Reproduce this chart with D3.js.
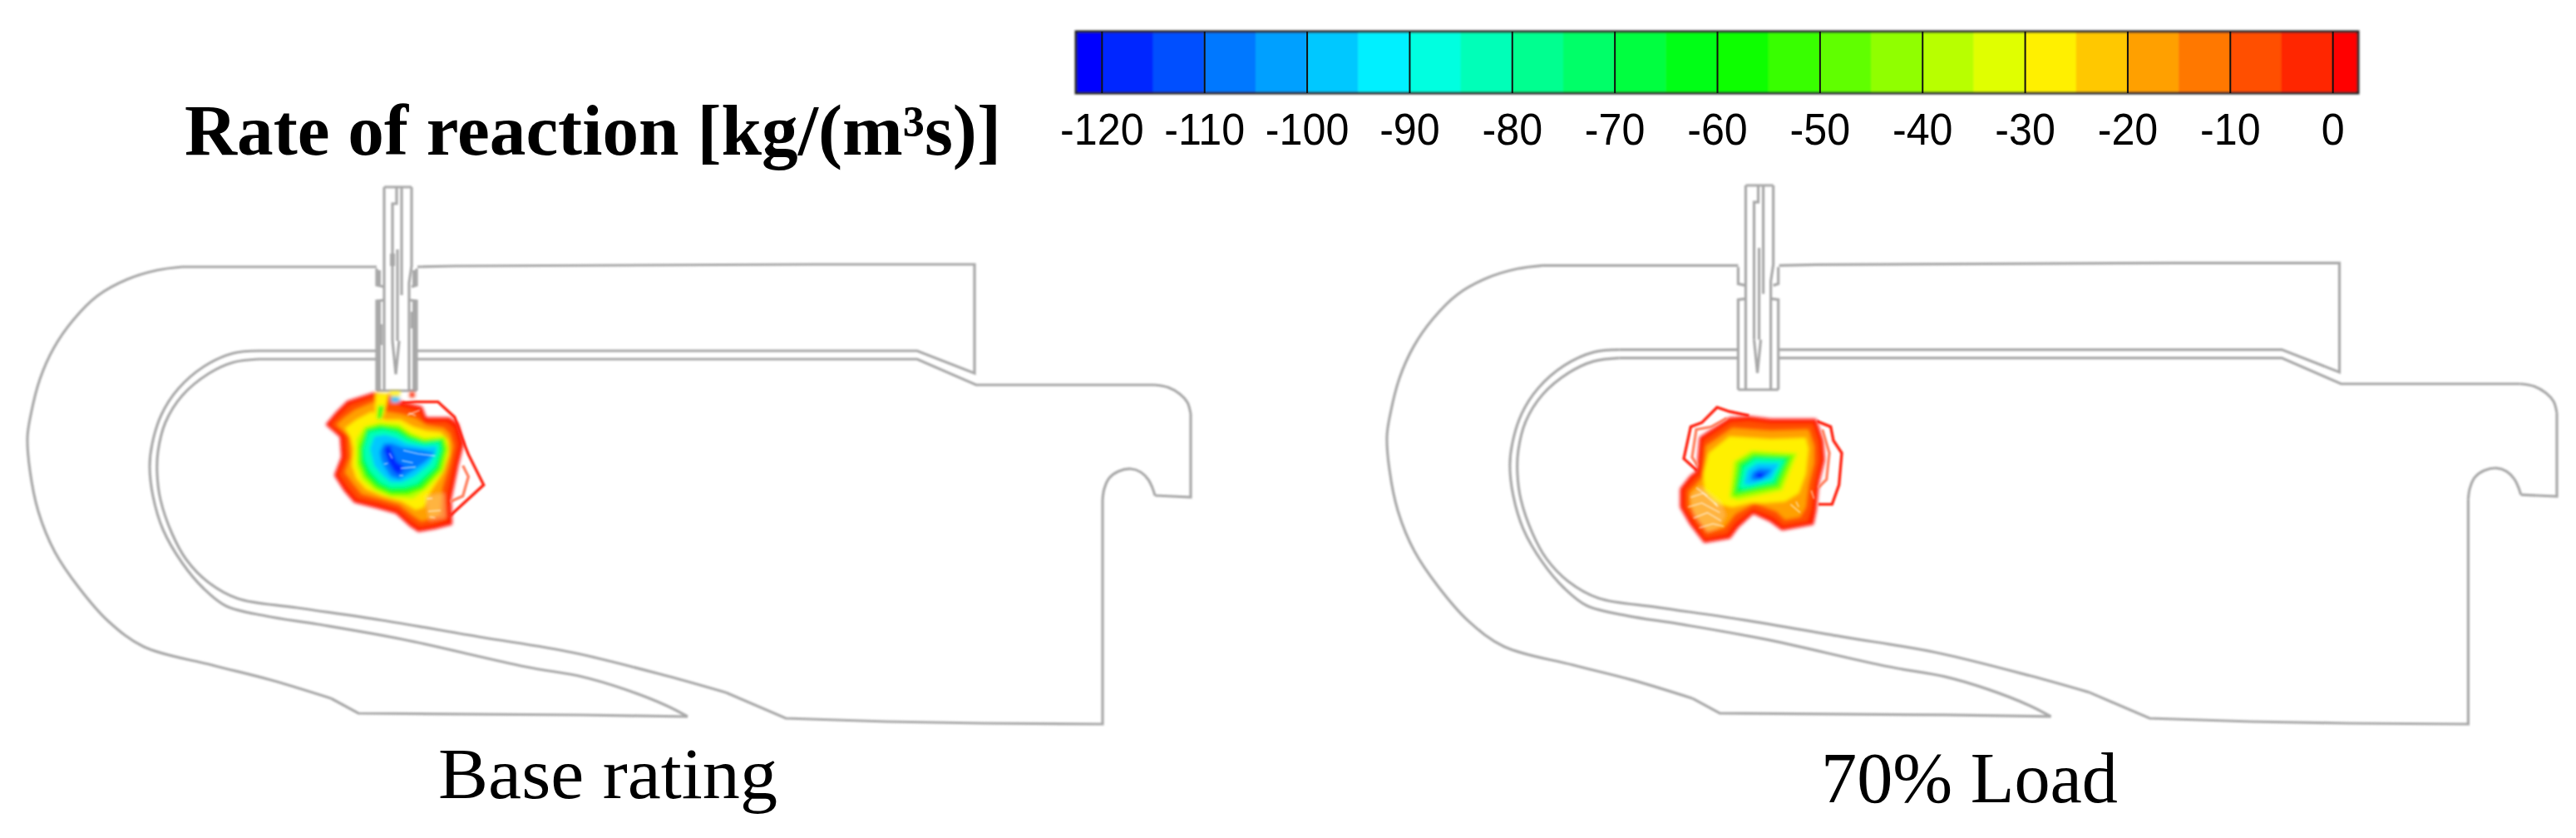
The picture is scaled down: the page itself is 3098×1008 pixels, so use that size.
<!DOCTYPE html>
<html>
<head>
<meta charset="utf-8">
<script src="https://cdn.jsdelivr.net/npm/d3@7"></script>
<style>
	html, body { margin: 0; padding: 0; background: #fff; overflow: hidden; }
	svg { display: block; }
</style>
</head>
<body>
<script>
const WIDTH = 3098;
const HEIGHT = 1008;

// colour bar, one band per 5 units
const tickValues = [-120, -110, -100, -90, -80, -70, -60, -50, -40, -30, -20, -10, 0];
const bandEdges = [-122.5, -120, -115, -110, -105, -100, -95, -90, -85, -80, -75, -70, -65, -60, -55, -50, -45, -40, -35, -30, -25, -20, -15, -10, -5, 0, 2.5];
const bandColors = ['#0000ff', '#0028ff', '#0050ff', '#0078ff', '#00a0ff', '#00c8ff', '#00f0ff', '#00ffe0', '#00ffb8', '#00ff90', '#00ff68', '#00ff40', '#00ff18', '#10ff00', '#38ff00', '#60ff00', '#90ff00', '#b8ff00', '#e0ff00', '#fff000', '#ffc800', '#ffa000', '#ff7800', '#ff5000', '#ff2800', '#ff0000'];

// texts
const titleText = 'Rate of reaction [kg/(m³s)]';
const panelNames = ['Base rating', '70% Load'];

// boiler outline, read in the pixels of the left panel
const straightWalls = [
	[[453,321],[219,321]],
	[[398,840],[431,858],[700,860],[827,862]],
	[[311,422],[453,422]],
	[[502,321],[546,320],[978,318],[1172,318],[1172,449],[1103,422],[502,422]],
	[[453,432],[311,432]],
	[[873,833],[945,864],[1067,868],[1182,870],[1326,871],[1326,601]],
	[[1389,596],[1432,598],[1432,498]],
	[[1388,463],[1174,463],[1103,432],[502,432]]
];
const curvedWalls = [
	[[219,321],[189,325],[153,336],[117,356],[88,385],[65,418],[48,456],[37,499],[33,526],[36,566],[46,615],[66,664],[95,707],[130,747],[173,778],[255,800],[326,818],[398,840]],
	[[827,862],[802,849],[751,829],[700,814],[632,802],[484,769],[383,751],[320,741],[272,729],[245,708],[219,677],[196,637],[184,597],[180,561],[183,534],[194,499],[214,468],[245,441],[280,425],[311,422]],
	[[311,432],[280,436],[250,450],[219,476],[199,508],[190,543],[189,570],[193,601],[207,642],[224,673],[250,700],[286,720],[357,731],[459,746],[576,766],[689,785],[802,813],[873,833]],
	[[1326,601],[1328,588],[1334,575],[1345,567],[1360,564],[1372,568],[1381,577],[1386,587],[1389,596]],
	[[1432,498],[1428,484],[1419,474],[1405,466],[1388,463]]
];
const injectorLines = [
	[[462,225],[495,225]], [[462,225],[462,470]], [[495,225],[495,320],[492,340],[492,470]],
	[[453,323],[453,343],[462,345]], [[453,470],[453,362],[462,361]],
	[[501,323],[501,343],[495,345]], [[501,470],[501,362],[493,361]],
	[[453,470],[501,470]],
	[[477,225],[477,245],[472,245],[472,410]], [[483,225],[483,355]], [[478,300],[478,410]],
	[[472,410],[476,450],[480,410]]
];
const injectorThick = [
	[[455,325],[455,343]], [[455,362],[455,470]], [[499,325],[499,343]], [[499,362],[499,470]],
	[[457,390],[457,415]], [[497,375],[497,395]], [[472,305],[472,320]]
];

// plume rings: [level, points], points in a 780x660 window over each plume
const basePlume = [
	[-1, [[100,212],[135,170],[175,130],[270,100],[330,105],[375,135],[440,150],[455,190],[540,190],[570,210],[590,280],[570,360],[545,480],[548,570],[490,585],[430,595],[400,575],[350,530],[280,510],[200,490],[165,450],[130,395],[155,330],[150,255]]],
	[-8, [[115,212],[145,180],[185,142],[270,112],[330,122],[370,150],[430,165],[450,205],[530,205],[555,225],[572,285],[555,360],[530,470],[530,555],[490,570],[435,580],[405,560],[355,515],[285,495],[210,478],[178,440],[145,392],[170,330],[165,250]]],
	[-18, [[135,212],[165,185],[200,160],[270,130],[310,165],[370,175],[420,190],[460,215],[520,225],[542,245],[555,290],[540,360],[515,440],[510,535],[480,550],[440,560],[410,540],[360,500],[290,480],[225,462],[195,425],[165,385],[185,330],[180,255]]],
	[-27, [[165,225],[205,195],[262,165],[310,195],[365,195],[410,220],[460,235],[510,240],[538,270],[540,320],[515,390],[470,460],[450,510],[420,520],[370,490],[300,470],[240,445],[205,405],[190,360],[195,300],[185,260]]],
	[-38, [[205,265],[235,220],[290,205],[360,210],[400,240],[450,260],[525,255],[540,300],[520,380],[460,445],[410,480],[330,475],[270,450],[225,410],[205,360]]],
	[-52, [[215,290],[240,225],[290,212],[360,222],[400,250],[450,268],[520,262],[530,300],[510,375],[445,445],[390,465],[330,465],[275,440],[235,400],[215,350]]],
	[-68, [[225,300],[245,232],[295,220],[355,232],[395,258],[450,275],[512,268],[520,300],[500,370],[435,435],[385,450],[330,452],[282,430],[242,390],[225,345]]],
	[-85, [[232,300],[250,240],[300,230],[350,240],[390,265],[450,282],[505,275],[510,305],[490,365],[425,425],[380,438],[330,440],[290,420],[255,380],[235,340]]],
	[-98, [[255,300],[270,255],[310,250],[350,260],[385,280],[450,292],[495,290],[495,310],[470,355],[415,400],[370,420],[330,420],[300,395],[270,360]]],
	[-108, [[290,310],[305,280],[335,280],[375,295],[450,305],[490,315],[450,350],[400,385],[360,410],[330,400],[310,370],[295,340]]],
	[-118, [[305,300],[325,285],[340,320],[350,345],[380,365],[360,395],[340,380],[320,345]]],
	// pieces under the injector mouth
	[-28, [[275,100],[322,100],[305,180],[272,195]]],
	[-62, [[285,145],[306,145],[296,192],[280,192]]],
	[-28, [[325,92],[365,92],[362,112],[328,112]]],
	[-100, [[330,112],[362,112],[360,132],[332,132]]],
	[-1, [[398,95],[416,95],[416,114],[398,114]]]
];
const baseLoops = [
	[[370,135],[420,130],[500,130],[560,185],[590,270],[610,320],[665,430],[545,540]],
	[[590,360],[610,400],[590,470],[545,490]]
];
const baseStreaks = [
	[[375,305],[430,318],[490,325]], [[370,342],[410,350]], [[365,370],[420,365]], [[360,396],[375,396]],
	[[325,315],[335,335]], [[305,355],[320,352]], [[390,178],[435,160]], [[395,170],[420,180]],
	[[460,480],[480,478]], [[465,525],[510,522]], [[470,545],[490,548]]
];
const loadPlume = [
	[-1, [[95,355],[130,310],[155,290],[165,170],[270,100],[340,95],[420,105],[580,105],[605,180],[610,250],[590,330],[580,430],[570,480],[460,500],[420,470],[355,440],[300,490],[270,530],[180,545],[130,480],[95,420]]],
	[-8, [[110,360],[140,325],[165,300],[178,180],[275,115],[340,110],[420,120],[570,120],[592,185],[595,250],[578,330],[565,425],[550,470],[465,485],[430,455],[355,425],[290,475],[260,515],[185,530],[145,475],[110,420]]],
	[-18, [[125,365],[150,340],[175,310],[185,200],[280,135],[420,145],[555,140],[575,200],[575,260],[555,340],[545,420],[525,455],[470,465],[440,435],[360,405],[290,445],[250,495],[190,510],[155,460],[125,415]]],
	[-27, [[175,300],[195,225],[270,165],[420,175],[545,170],[555,210],[545,300],[520,370],[470,400],[400,405],[345,405],[280,420],[215,405],[180,360]]],
	[-38, [[270,385],[285,255],[350,215],[515,225],[460,360],[300,395]]],
	[-50, [[280,378],[298,258],[355,225],[500,233],[450,350],[295,382]]],
	[-68, [[292,365],[308,265],[358,235],[485,240],[440,340],[305,368]]],
	[-85, [[305,350],[320,275],[362,245],[470,248],[430,330],[320,355]]],
	[-98, [[322,335],[335,285],[370,262],[450,262],[420,318],[345,340]]],
	[-108, [[345,320],[352,295],[378,280],[425,283],[405,308],[365,325]]],
	[-118, [[362,310],[370,295],[400,298],[385,320]]]
];
// paler lobes, where the contour lines sit apart
const baseLobes = [[[455,470],[525,460],[530,550],[470,560]]];
const loadLobes = [[[130,380],[165,345],[235,400],[255,450],[230,495],[190,510],[140,450]]];
const loadLoops = [
	[[155,290],[105,245],[130,130],[170,115],[225,60],[270,75],[340,90]],
	[[155,270],[135,240],[150,140],[205,130],[260,100]],
	[[585,110],[635,130],[645,180],[675,225],[665,340],[640,410],[590,410]],
	[[605,140],[630,225],[620,320],[590,350]]
];
const loadStreaks = [
	[[130,385],[175,370],[225,412]], [[120,420],[170,405],[235,440]], [[140,460],[190,440],[240,470]],
	[[160,495],[210,480],[250,490]], [[150,350],[190,380]], [[215,405],[228,418]],
	[[490,410],[525,440]], [[510,400],[520,420]], [[565,360],[575,390]]
];

const svg = d3.select('body').append('svg')
	.attr('width', WIDTH)
	.attr('height', HEIGHT)
	.attr('viewBox', `0 0 ${WIDTH} ${HEIGHT}`);

const defs = svg.append('defs');
defs.append('filter').attr('id', 'soft').append('feGaussianBlur').attr('stdDeviation', 0.9);
defs.append('filter').attr('id', 'plume')
	.attr('x', '-10%').attr('y', '-10%').attr('width', '120%').attr('height', '120%')
	.append('feGaussianBlur').attr('stdDeviation', 2.2);

svg.append('rect').attr('width', WIDTH).attr('height', HEIGHT).attr('fill', '#fff');

// colour bar
const xBar = d3.scaleLinear().domain([-122.5, 2.5]).range([1294, 2836]);
const yBar = d3.scaleLinear().domain([0, 1]).range([112, 38]);
const barColor = d3.scaleThreshold().domain(bandEdges.slice(1, -1)).range(bandColors);

const bar = svg.append('g').attr('filter', 'url(#soft)');
bar.selectAll('rect.band')
	.data(d3.pairs(bandEdges))
	.join('rect')
	.attr('class', 'band')
	.attr('x', d => xBar(d[0]))
	.attr('y', yBar(1))
	.attr('width', d => xBar(d[1]) - xBar(d[0]) + 0.5)
	.attr('height', yBar(0) - yBar(1))
	.attr('fill', d => barColor(d[0]));
bar.append('rect')
	.attr('x', xBar(-122.5))
	.attr('y', yBar(1))
	.attr('width', xBar(2.5) - xBar(-122.5))
	.attr('height', yBar(0) - yBar(1))
	.attr('fill', 'none')
	.attr('stroke', '#222')
	.attr('stroke-width', 3);

const barAxis = d3.axisBottom(xBar)
	.tickValues(tickValues)
	.tickSize(-(yBar(0) - yBar(1)))
	.tickPadding(24)
	.tickFormat(d => String(d));
const axisG = svg.append('g')
	.attr('transform', `translate(0,${yBar(0)})`)
	.call(barAxis);
axisG.select('.domain').remove();
axisG.selectAll('.tick line').attr('stroke', '#111').attr('stroke-width', 2);
axisG.selectAll('.tick text')
	.attr('fill', '#000')
	.attr('font-family', '"Liberation Sans", Arial, sans-serif')
	.attr('font-size', 54)
	.each(function () {
		// the labels are narrower than the font, squeeze them a bit
		d3.select(this)
			.attr('textLength', this.getComputedTextLength() * 0.93)
			.attr('lengthAdjust', 'spacingAndGlyphs');
	});

// panels
const wallLine = d3.line();
const curveLine = d3.line().curve(d3.curveCatmullRom.alpha(0.5));
const ringLine = d3.line().curve(d3.curveLinearClosed);

function drawPanel(xRange, yRange, plumeX, plumeY, rings, lobes, loops, streaks, thick) {
	const x = d3.scaleLinear().domain([33, 1432]).range(xRange);
	const y = d3.scaleLinear().domain([225, 871]).range(yRange);
	const px = d3.scaleLinear().domain([0, 780]).range(plumeX);
	const py = d3.scaleLinear().domain([0, 660]).range(plumeY);
	const toWall = d => d.map(p => [x(p[0]), y(p[1])]);
	const toPlume = d => d.map(p => [px(p[0]), py(p[1])]);

	const g = svg.append('g');
	const wallG = g.append('g')
		.attr('filter', 'url(#soft)')
		.attr('fill', 'none')
		.attr('stroke', '#a8a8a8');

	wallG.selectAll('path.straight')
		.data(straightWalls.concat(injectorLines))
		.join('path')
		.attr('class', 'straight')
		.attr('d', d => wallLine(toWall(d)))
		.attr('stroke-width', 3.2);
	wallG.selectAll('path.curved')
		.data(curvedWalls)
		.join('path')
		.attr('class', 'curved')
		.attr('d', d => curveLine(toWall(d)))
		.attr('stroke-width', 3.2);
	wallG.selectAll('path.thick')
		.data(thick)
		.join('path')
		.attr('class', 'thick')
		.attr('d', d => wallLine(toWall(d)))
		.attr('stroke-width', 6);

	const plume = g.append('g').attr('filter', 'url(#plume)');
	plume.selectAll('path.ring')
		.data(rings)
		.join('path')
		.attr('class', 'ring')
		.attr('d', d => ringLine(toPlume(d[1])))
		.attr('fill', d => barColor(d[0]))
		.attr('stroke', (d, i) => i == 0 ? '#ff0000' : 'none')
		.attr('stroke-width', 2.5);
	plume.selectAll('path.lobe')
		.data(lobes)
		.join('path')
		.attr('class', 'lobe')
		.attr('d', d => ringLine(toPlume(d)))
		.attr('fill', '#ffc880')
		.attr('fill-opacity', 0.5);

	// open contour lines around the plume
	const lines = g.append('g').attr('filter', 'url(#soft)');
	lines.selectAll('path.loop')
		.data(loops)
		.join('path')
		.attr('class', 'loop')
		.attr('d', d => wallLine(toPlume(d)))
		.attr('fill', 'none')
		.attr('stroke', (d, i) => i % 2 == 0 ? '#ff2010' : '#ff8060')
		.attr('stroke-width', 3.4);
	lines.selectAll('path.streak')
		.data(streaks)
		.join('path')
		.attr('class', 'streak')
		.attr('d', d => wallLine(toPlume(d)))
		.attr('fill', 'none')
		.attr('stroke', '#fff')
		.attr('stroke-opacity', 0.6)
		.attr('stroke-width', 1.6);
}

drawPanel([33, 1432], [225, 871], [360, 620], [440, 660], basePlume, baseLobes, baseLoops, baseStreaks, injectorThick);
drawPanel([1668, 3075], [223, 871], [1990, 2250], [470, 690], loadPlume, loadLobes, loadLoops, loadStreaks, []);

// texts
svg.append('text')
	.attr('x', 222)
	.attr('y', 186)
	.attr('textLength', 982)
	.attr('lengthAdjust', 'spacingAndGlyphs')
	.attr('font-family', '"Liberation Serif", serif')
	.attr('font-weight', 'bold')
	.attr('font-size', 86)
	.attr('fill', '#000')
	.text(titleText);

const captions = [
	{ text: panelNames[0], x: 527, y: 960, len: 408 },
	{ text: panelNames[1], x: 2190, y: 965, len: 357 }
];
svg.selectAll('text.caption')
	.data(captions)
	.join('text')
	.attr('class', 'caption')
	.attr('x', d => d.x)
	.attr('y', d => d.y)
	.attr('textLength', d => d.len)
	.attr('lengthAdjust', 'spacingAndGlyphs')
	.attr('font-family', '"Liberation Serif", serif')
	.attr('font-size', 86)
	.attr('fill', '#000')
	.text(d => d.text);
</script>
</body>
</html>
